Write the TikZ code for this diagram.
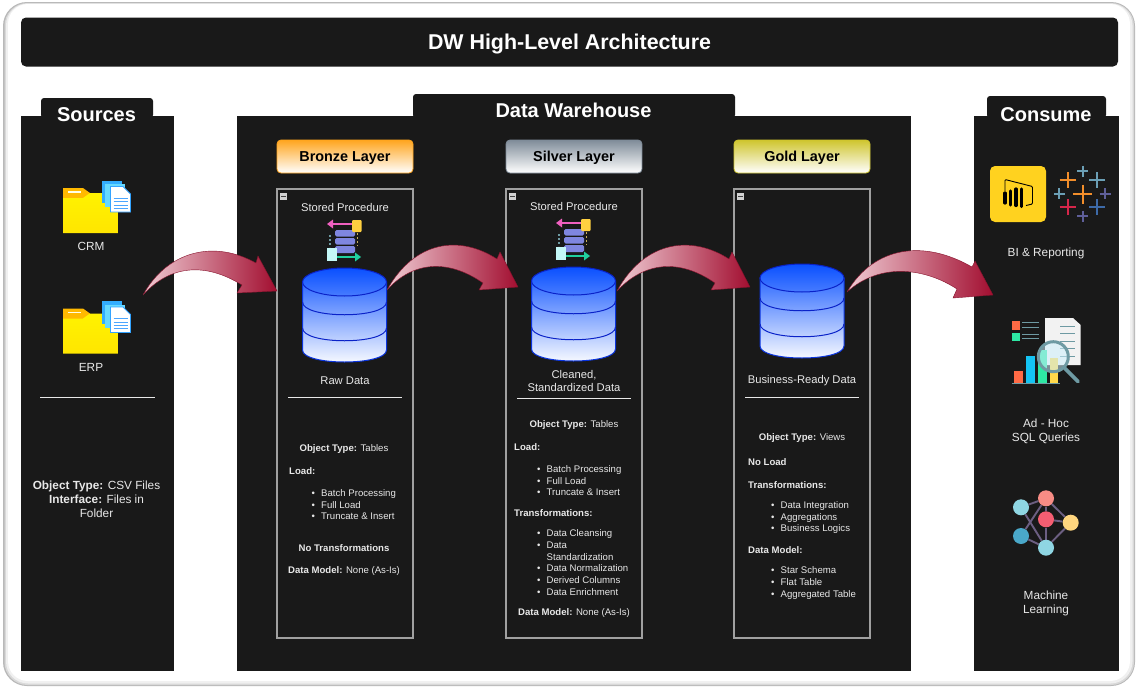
\documentclass[tikz,border=0pt]{standalone}
\usepackage{fontspec}
\setmainfont{Liberation Sans}
\usepackage{tikz}
\usetikzlibrary{positioning}
\pgfdeclarelayer{front}
\pgfsetlayers{main,front}
\definecolor{panelblack}{HTML}{191919}
\definecolor{framegray}{HTML}{A0A0A0}
\definecolor{lighttext}{HTML}{E8E8E8}
\definecolor{dbblue}{HTML}{0A50FF}
\definecolor{dbline}{HTML}{0A22C8}
\definecolor{bronzetop}{HTML}{FFA51E}
\definecolor{silvertop}{HTML}{7F8C99}
\definecolor{goldtop}{HTML}{CFC52E}
\definecolor{arrowpale}{HTML}{F0CCD4}
\definecolor{arrowdark}{HTML}{A20E30}
\definecolor{arrowline}{HTML}{86122C}
\definecolor{barred}{HTML}{FF6A45}
\definecolor{barcyan}{HTML}{14C4F4}
\definecolor{bargreen}{HTML}{2EE8A4}
\definecolor{baryellow}{HTML}{FFD84A}
\definecolor{iconteal}{HTML}{6E9AA3}
\definecolor{tabblue}{HTML}{3D6AA8}
\definecolor{tabteal}{HTML}{6B9FB5}
\definecolor{tabpurple}{HTML}{5F5F99}
\definecolor{taborange}{HTML}{F28E2B}
\definecolor{tabred}{HTML}{D6264A}
\definecolor{pbiyellow}{HTML}{FFD21F}
\definecolor{mledgecol}{HTML}{6C5F82}
\definecolor{spstack}{HTML}{7F86E0}
\definecolor{sppink}{HTML}{F060C0}
\definecolor{spyellow}{HTML}{FFD040}
\definecolor{spgreen}{HTML}{20D0A0}
\definecolor{spcyan}{HTML}{C4F8F8}
\definecolor{mlcyan}{HTML}{8FD6E3}
\definecolor{mlsalmon}{HTML}{F78C85}
\definecolor{mlred}{HTML}{F55E72}
\definecolor{mlyellow}{HTML}{FFD67F}
\definecolor{mlblue}{HTML}{4AA8C9}
\newcommand{\bulitem}[1]{\makebox[9.5pt][l]{\textbullet}#1}
\newcommand{\contitem}[1]{\makebox[9.5pt][l]{}#1}
\tikzset{
    panel/.style={fill=panelblack},
    tabbox/.style={fill=panelblack, rounded corners=3pt},
    headtext/.style={text=white, font=\bfseries\fontsize{20}{22}\selectfont, inner sep=0pt},
    layerbox/.style={draw=#1, line width=0.8pt, rounded corners=4pt, top color=#1, bottom color=white, minimum width=136pt, minimum height=33pt, inner sep=0pt, text=black, text depth=0pt, font=\bfseries\fontsize{14.4}{16}\selectfont},
    framebox/.style={draw=framegray, line width=1.1pt},
    sidetext/.style={text=lighttext, font=\fontsize{11.8}{14}\selectfont, align=center, inner sep=0pt, yshift=-0.7pt},
    labeltext/.style={text=lighttext, font=\fontsize{11.2}{13}\selectfont, align=center, inner sep=0pt},
    bodytext/.style={text=lighttext, font=\fontsize{9.6}{11.7}\selectfont, align=left, inner sep=0pt, yshift=-0.7pt},
    flowarrow/.style={left color=arrowpale, right color=arrowdark, draw=arrowline, line width=0.4pt},
    sepline/.style={draw=lighttext, line width=0.7pt},
    mlcircle/.style={circle, minimum size=16pt, inner sep=0pt, fill=#1},
    mledge/.style={draw=mledgecol, line width=1.9pt},
    db/.pic={
        \shade[top color=dbblue!85!white, bottom color=white, draw=dbline!60!dbblue, line width=1pt] (-42,0) -- (-42,68) .. controls (-42,84) and (42,84) .. (42,68) -- (42,0) -- cycle;
        \shade[top color=dbblue, bottom color=dbblue!75!white, draw=dbline, line width=1pt] (0,0) ellipse [x radius=42, y radius=14];
        \draw[dbline, line width=1pt] (-42,20) .. controls (-42,37) and (42,37) .. (42,20);
        \draw[dbline, line width=1pt] (-42,46) .. controls (-42,63) and (42,63) .. (42,46);
    },
    sproc/.pic={
        \fill[spstack, rounded corners=1.5pt] (-10,-10) rectangle (10,-3.5) (-10,-2) rectangle (10,4.5) (-10,6) rectangle (10,13);
        \draw[sppink, line width=2.6pt] (-14,-16) -- (8,-16);
        \fill[sppink] (-12,-20.5) -- (-18,-16) -- (-12,-11.5) -- cycle;
        \fill[spyellow, rounded corners=1pt] (7,-20) rectangle (16.5,-8);
        \draw[spgreen, line width=2.6pt] (-9,17) -- (12,17);
        \fill[spgreen] (10,12.5) -- (16,17) -- (10,21.5) -- cycle;
        \fill[spcyan] (-18,8) rectangle (-8,20.5);
        \draw[iconteal, line width=1.1pt, dash pattern=on 2pt off 2pt] (-15,-5) -- (-15,7);
        \draw[spyellow!60!gray, line width=1.1pt, dash pattern=on 2pt off 2pt] (12.5,-7) -- (12.5,6);
    },
    folder/.pic={
        \fill[orange!55!yellow] (0,0) -- (20,0) -- (27,5) -- (27,16) -- (0,16) -- cycle;
        \shade[top color=yellow!90!orange, bottom color=yellow!80!orange] (0,10) -- (20,10) -- (27,5) -- (55,5) -- (55,45) -- (0,45) -- cycle;
        \fill[white!90!yellow] (5,3) rectangle (18,4.6);
        \fill[blue!40!cyan!80!white] (38.5,-7.5) rectangle (59,15);
        \fill[blue!25!cyan!60!white] (42,-4) rectangle (62,19);
        \fill[white, draw=blue!45!cyan!80!white, line width=0.8pt] (47.5,-1.5) -- (60,-1.5) -- (67.5,6) -- (67.5,24) -- (47.5,24) -- cycle;
        \foreach \yy in {10,13.5,17,20} { \draw[blue!50!cyan!70!white, line width=0.7pt] (50.5,\yy) -- (64.5,\yy); }
    },
    minusbox/.pic={
        \fill[gray!35] (-3.5,-3.5) rectangle (3.5,3.5);
        \fill[black!75] (-2.2,-0.5) rectangle (2.2,0.5);
    },
}
\begin{document}
\begin{tikzpicture}[x=1pt, y=-1pt]
    \useasboundingbox (0,0) rectangle (1138,688);
    % outer frame
    \fill[white] (0,0) rectangle (1138,688);
    \fill[gray!55, rounded corners=24pt] (3,2) rectangle (1135,686);
    \fill[gray!30, rounded corners=23pt] (4.5,3) rectangle (1134,685);
    \fill[gray!12, rounded corners=22pt] (6,3.5) rectangle (1132.5,683.5);
    \fill[white, rounded corners=20pt] (8,4) rectangle (1130,681);

    \node[fill=panelblack, rounded corners=5pt, minimum width=1097pt, minimum height=49pt, inner sep=0pt, text=white, font=\bfseries\fontsize{21.4}{24}\selectfont, text depth=0pt, yshift=-0.5pt] (title) at (569.5,41.5) {DW High-Level Architecture};

    % panels
    \fill[panel] (21,116) rectangle (174,671);
    \fill[tabbox] (41,118) -- (41,98) -- (153,98) -- (153,118) -- cycle;
    \node[headtext] (sources) at (96.5,114.5) {Sources};
    \fill[panel] (237,116) rectangle (911,671);
    \fill[tabbox] (413,118) -- (413,94) -- (735,94) -- (735,118) -- cycle;
    \node[headtext] (warehouse) at (573.5,110.5) {Data Warehouse};
    \fill[panel] (974,116) rectangle (1119,671);
    \fill[tabbox] (987,118) -- (987,96) -- (1106,96) -- (1106,118) -- cycle;
    \node[headtext] (consume) at (1046,114.5) {Consume};

    % sources
    \pic at (63,188) {folder};
    \node[sidetext] (crm) at (91,245.5) {CRM};
    \pic at (63,308.5) {folder};
    \node[sidetext] (erp) at (91,366.5) {ERP};
    \draw[sepline] (40,397.5) -- (155,397.5);
    \node[sidetext] (srcinfo) at (96.5,499) {\textbf{Object Type:} CSV Files\\\textbf{Interface:} Files in\\Folder};

    % layers
    \node[layerbox=bronzetop] (bronze) at (345,156.5) {Bronze Layer};
    \node[layerbox=silvertop] (silver) at (574,156.5) {Silver Layer};
    \node[layerbox=goldtop] (gold) at (802,156.5) {Gold Layer};
    \draw[framebox] (277,189) rectangle (413,638);
    \draw[framebox] (506,189) rectangle (642,638);
    \draw[framebox] (734,189) rectangle (870,638);
    \pic at (283.5,196) {minusbox};
    \pic at (512.5,196) {minusbox};
    \pic at (740.5,196) {minusbox};

    % bronze
    \node[labeltext] (brzproc) at (345,207) {Stored Procedure};
    \pic at (345,240) {sproc};
    \pic at (344.5,282) {db};
    \node[labeltext] (brzdata) at (345,380.5) {Raw Data};
    \draw[sepline] (288,397.5) -- (402,397.5);
    \node[bodytext] (brztype) at (344,448) {\textbf{Object Type:} Tables};
    \node[bodytext, anchor=west] (brzload) at (289,470) {\textbf{Load:}};
    \node[bodytext, anchor=west] (brzlist) at (311.5,504) {\bulitem{Batch Processing}\\\bulitem{Full Load}\\\bulitem{Truncate \& Insert}};
    \node[bodytext] (brznone) at (344,547.5) {\textbf{No Transformations}};
    \node[bodytext] (brzmodel) at (344,570) {\textbf{Data Model:} None (As-Is)};

    % silver
    \node[labeltext] (slvproc) at (574,206) {Stored Procedure};
    \pic at (574,239) {sproc};
    \pic at (573.5,281) {db};
    \node[labeltext] (slvdata) at (574,380.5) {Cleaned,\\Standardized Data};
    \draw[sepline] (517,398) -- (631,398);
    \node[bodytext] (slvtype) at (574,424) {\textbf{Object Type:} Tables};
    \node[bodytext, anchor=west] (slvload) at (514,446.5) {\textbf{Load:}};
    \node[bodytext, anchor=west] (slvlist) at (537,480) {\bulitem{Batch Processing}\\\bulitem{Full Load}\\\bulitem{Truncate \& Insert}};
    \node[bodytext, anchor=west] (slvtrans) at (514,512) {\textbf{Transformations:}};
    \node[bodytext, anchor=west] (slvsteps) at (537,562) {\bulitem{Data Cleansing}\\\bulitem{Data}\\\contitem{Standardization}\\\bulitem{Data Normalization}\\\bulitem{Derived Columns}\\\bulitem{Data Enrichment}};
    \node[bodytext] (slvmodel) at (574,612.5) {\textbf{Data Model:} None (As-Is)};

    % gold
    \pic at (802,278) {db};
    \node[labeltext] (glddata) at (802,381) {Business-Ready Data};
    \draw[sepline] (745,397.5) -- (859,397.5);
    \node[bodytext] (gldtype) at (802,437.5) {\textbf{Object Type:} Views};
    \node[bodytext, anchor=west] (gldload) at (748,461) {\textbf{No Load}};
    \node[bodytext, anchor=west] (gldtrans) at (748,484) {\textbf{Transformations:}};
    \node[bodytext, anchor=west] (gldsteps) at (771,517) {\bulitem{Data Integration}\\\bulitem{Aggregations}\\\bulitem{Business Logics}};
    \node[bodytext, anchor=west] (gldmodel) at (748,549.5) {\textbf{Data Model:}};
    \node[bodytext, anchor=west] (gldlist) at (771,582.5) {\bulitem{Star Schema}\\\bulitem{Flat Table}\\\bulitem{Aggregated Table}};

    % consume: bi
    \fill[pbiyellow, rounded corners=5pt] (990,166) rectangle (1046,222);
    \draw[black, line width=0.9pt, rounded corners=1pt] (1005,191) -- (1005,179.5) -- (1032.5,186.5) -- (1032.5,204) -- (1026,205.5);
    \foreach \xx/\yy/\zz in {1005/193/203, 1010.7/191/205, 1016/189/205.5, 1021.7/189/206.5} {
        \draw[black, line width=3.2pt, line cap=round] (\xx,\yy) -- (\xx,\zz);
    }
    \foreach \xx/\yy/\rr/\cc in {1082.7/194/9.5/taborange, 1067.7/180/8/taborange, 1097.3/180/8/tabteal, 1082.7/171/5.5/tabteal, 1059.3/193.7/5.5/tabteal, 1105/193.7/5.5/tabpurple, 1067.7/207.3/8/tabred, 1097.3/207.3/8/tabblue, 1082.7/216/5.5/tabpurple} {
        \draw[\cc, line width=2.3pt] (\xx-\rr,\yy) -- (\xx+\rr,\yy) (\xx,\yy-\rr) -- (\xx,\yy+\rr);
    }
    \node[sidetext] (bitext) at (1046,252.5) {BI \& Reporting};

    % consume: ad hoc
    \fill[gray!10] (1045,318) -- (1073,318) -- (1080.7,325) -- (1080.7,365) -- (1045,365) -- cycle;
    \foreach \yy in {326.7,333.3,341.7,348.3,356.7} { \draw[iconteal, line width=1pt] (1060,\yy) -- (1075,\yy); }
    \fill[barred] (1011.5,321) rectangle (1020,329.5);
    \fill[bargreen] (1011.5,332.5) rectangle (1020,341);
    \foreach \yy in {322.5,327,334,338.5} { \draw[iconteal, line width=1pt] (1022,\yy) -- (1039,\yy); }
    \fill[barred] (1014,370.7) rectangle (1022.7,383);
    \fill[barcyan] (1026,356) rectangle (1034.7,383);
    \fill[bargreen] (1038,350) rectangle (1046.7,383);
    \fill[baryellow] (1050,358) rectangle (1058.3,383);
    \draw[iconteal, line width=1pt] (1011.7,383.5) -- (1060,383.5);
    \draw[iconteal, line width=3.8pt, line cap=round] (1065,368.5) -- (1078,381.5);
    \filldraw[fill=cyan!20!white, fill opacity=0.55, draw=iconteal, line width=3pt] (1053.3,356.7) circle (15);
    \node[sidetext] (adhoc) at (1046,431) {Ad - Hoc\\SQL Queries};

    % consume: ml
    \begin{pgfonlayer}{front}
    \node[mlcircle=mlcyan] (mla) at (1021,507.3) {};
    \node[mlcircle=mlsalmon] (mlb) at (1046,498.3) {};
    \node[mlcircle=mlred] (mlc) at (1046,519.3) {};
    \node[mlcircle=mlyellow] (mld) at (1070.7,522.7) {};
    \node[mlcircle=mlblue] (mle) at (1021,536) {};
    \node[mlcircle=mlcyan] (mlf) at (1046,547.7) {};
    \end{pgfonlayer}
    \foreach \aa/\bb in {mla/mlb, mla/mlf, mlb/mle, mlb/mld, mlb/mlc, mlc/mld, mlc/mlf, mld/mlf, mle/mlf} {
        \draw[mledge] (\aa) -- (\bb);
    }
    \node[sidetext] (mltext) at (1046,603) {Machine\\Learning};

    % flow arrows
    \coordinate (srctail) at (143,295);
    \coordinate (brztip) at (277,291);
    \coordinate (brztail) at (387,290);
    \coordinate (slvtip) at (518,287);
    \coordinate (slvtail) at (617,291);
    \coordinate (gldtip) at (750,287);
    \coordinate (gldtail) at (847,292);
    \coordinate (bitip) at (993,295);
    \shade[flowarrow] (srctail) .. controls (168,250) and (215,240) .. (256,263) -- (258,256) -- (brztip) -- (237,293) -- (242,285) .. controls (205,262) and (170,265) .. (srctail);
    \shade[flowarrow] (brztail) .. controls (415,240) and (460,235) .. (497,259) -- (500,252) -- (slvtip) -- (479,290) -- (483,283) .. controls (447,258) and (412,262) .. (brztail);
    \shade[flowarrow] (slvtail) .. controls (645,240) and (692,235) .. (729,259) -- (732,252) -- (gldtip) -- (711,290) -- (715,283) .. controls (679,258) and (644,262) .. (slvtail);
    \shade[flowarrow] (gldtail) .. controls (875,245) and (925,240) .. (972,267) -- (975,261) -- (bitip) -- (953,298) -- (957,289) .. controls (925,268) and (880,262) .. (gldtail);
\end{tikzpicture}
\end{document}
